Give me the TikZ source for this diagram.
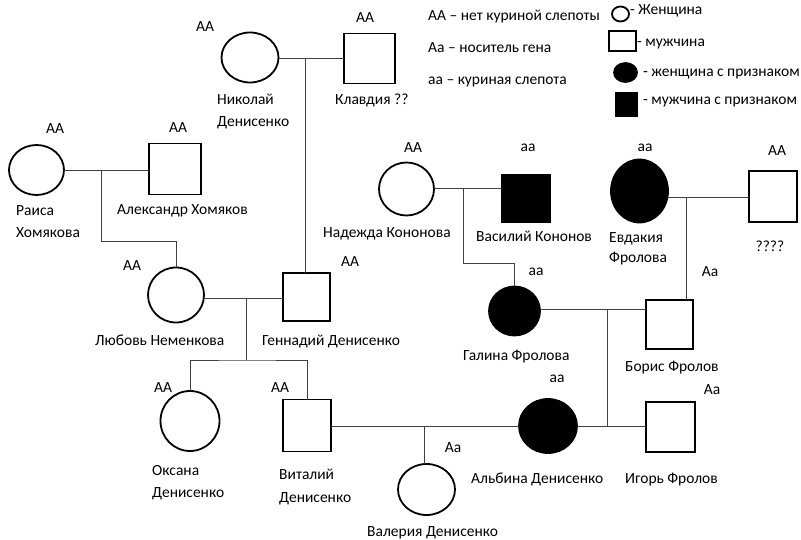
\documentclass[tikz,border=0pt]{standalone}
\usepackage{fontspec}
\setmainfont{Carlito}
\usetikzlibrary{shapes.geometric}
\begin{document}
\begin{tikzpicture}[x=1pt,y=-1pt,
  person/.style={draw=black, line width=1.8pt, inner sep=0pt, outer sep=0pt},
  fem/.style={person, ellipse},
  mal/.style={person, rectangle},
  aff/.style={fill=black},
  link/.style={draw=black!75, line width=0.8pt},
  lbl/.style={inner sep=0pt, anchor=base west, text=black,
    font=\fontsize{15.5}{18}\selectfont},
  gt/.style={lbl, anchor=base},
]
\useasboundingbox (0,0) rectangle (801,540);

% ---- persons ----
\node[fem, minimum width=57pt, minimum height=50pt] (nik) at (250,57.5) {};
\node[mal, minimum width=51pt, minimum height=50pt] (kla) at (369.5,58.5) {};
\node[fem, minimum width=55pt, minimum height=50pt] (rai) at (36.5,170) {};
\node[mal, minimum width=52pt, minimum height=51pt] (ale) at (175,169) {};
\node[fem, minimum width=56pt, minimum height=55pt] (lyu) at (176,295) {};
\node[mal, minimum width=47pt, minimum height=48pt] (gen) at (306.5,297) {};
\node[fem, minimum width=59pt, minimum height=60pt] (oks) at (190,421) {};
\node[mal, minimum width=48pt, minimum height=52pt] (vit) at (307,425.5) {};
\node[fem, minimum width=57pt, minimum height=51pt] (val) at (426.5,489.5) {};
\node[fem, aff, minimum width=58pt, minimum height=54pt] (alb) at (548,426) {};
\node[mal, minimum width=49pt, minimum height=50pt] (igo) at (670.5,427) {};
\node[fem, aff, minimum width=51pt, minimum height=49pt] (gal) at (514.5,311) {};
\node[mal, minimum width=47pt, minimum height=49pt] (bor) at (669.5,324.5) {};
\node[fem, minimum width=55pt, minimum height=53pt] (nad) at (406.5,189) {};
\node[mal, aff, minimum width=48pt, minimum height=47pt] (vas) at (526,198.5) {};
\node[fem, aff, minimum width=57pt, minimum height=63pt] (evd) at (639.5,191) {};
\node[mal, minimum width=48pt, minimum height=51pt] (unk) at (773,196.5) {};

% ---- marriages and descent ----
\coordinate (jnk) at (305,58);
\coordinate (jra) at (101,170);
\coordinate (kra) at (101,241);
\coordinate (jlg) at (246,298);
\coordinate (sib) at (246,360);
\coordinate (jva) at (424,426);
\coordinate (jgb) at (607,309);
\coordinate (jai) at (607,426);
\coordinate (jnv) at (463,188);
\coordinate (knv) at (463,263);
\coordinate (jeu) at (686,197);

\draw[link] (nik.east |- jnk) -- (kla.west |- jnk);
\draw[link] (jnk) -- (jnk |- gen.north);

\draw[link] (rai.east |- jra) -- (ale.west |- jra);
\draw[link] (jra) -- (kra) -| (lyu.north);

\draw[link] (lyu.east |- jlg) -- (gen.west |- jlg);
\draw[link] (jlg) -- (sib);
\draw[link] (oks.north) |- (sib) -| (vit.north);

\draw[link] (vit.east |- jva) -- (alb.west |- jva);
\draw[link] (jva) -- (jva |- val.north);

\draw[link] (gal.east |- jgb) -- (bor.west |- jgb);
\draw[link] (jgb) -- (jai);
\draw[link] (alb.east |- jai) -- (igo.west |- jai);

\draw[link] (nad.east |- jnv) -- (vas.west |- jnv);
\draw[link] (jnv) -- (knv) -| (gal.north);

\draw[link] (evd.east |- jeu) -- (unk.west |- jeu);
\draw[link] (jeu) -- (jeu |- bor.north);

% ---- genotypes ----
\node[gt] (gnik) at (205,32) {AA};
\node[gt] (gkla) at (365,23) {AA};
\node[gt] (grai) at (55,134) {AA};
\node[gt] (gale) at (178,133) {AA};
\node[gt] (glyu) at (132,271) {AA};
\node[gt] (ggen) at (350,267) {AA};
\node[gt] (goks) at (163,392) {AA};
\node[gt] (gvit) at (280,392) {AA};
\node[gt] (gval) at (453,452) {Aa};
\node[gt] (galb) at (557,382) {aa};
\node[gt] (ggal) at (536,276) {aa};
\node[gt] (gbor) at (710,277) {Aa};
\node[gt] (gigo) at (712,394) {Aa};
\node[gt] (gnad) at (413,153) {AA};
\node[gt] (gvas) at (528,152) {aa};
\node[gt] (gevd) at (645,152) {aa};
\node[gt] (gunk) at (777,156) {AA};

% ---- names ----
\node[lbl] (nnik1) at (217,105) {Николай};
\node[lbl] (nnik2) at (217,127) {Денисенко};
\node[lbl] (nkla) at (335,105) {Клавдия ??};
\node[lbl] (nrai1) at (16,216) {Раиса};
\node[lbl] (nrai2) at (16,238) {Хомякова};
\node[lbl] (nale) at (117,215) {Александр Хомяков};
\node[lbl] (nlyu) at (95,345) {Любовь Неменкова};
\node[lbl] (ngen) at (262,345) {Геннадий Денисенко};
\node[lbl] (noks1) at (152,475) {Оксана};
\node[lbl] (noks2) at (152,497) {Денисенко};
\node[lbl] (nvit1) at (279,479) {Виталий};
\node[lbl] (nvit2) at (279,502) {Денисенко};
\node[lbl] (nval) at (367,536) {Валерия Денисенко};
\node[lbl] (nalb) at (471,483) {Альбина Денисенко};
\node[lbl] (ngal) at (463,360) {Галина Фролова};
\node[lbl] (nbor) at (625,371) {Борис Фролов};
\node[lbl] (nigo) at (625,483) {Игорь Фролов};
\node[lbl] (nnad) at (323,238) {Надежда Кононова};
\node[lbl] (nvas) at (476,242) {Василий Кононов};
\node[lbl] (nevd1) at (609,243) {Евдакия};
\node[lbl] (nevd2) at (609,262) {Фролова};
\node[gt] (nunk) at (770,252) {????};

% ---- legend ----
\node[lbl] (k1) at (428,21) {AA – нет куриной слепоты};
\node[lbl] (k2) at (428,53) {Aa – носитель гена};
\node[lbl] (k3) at (428,85) {aa – куриная слепота};
\node[fem, minimum width=17pt, minimum height=15pt] (sf) at (620.5,14) {};
\node[mal, minimum width=27pt, minimum height=20pt] (sm) at (622.5,41) {};
\node[fem, aff, minimum width=23pt, minimum height=19pt] (sfa) at (625.5,72.5) {};
\node[mal, aff, minimum width=21pt, minimum height=23pt] (sma) at (626.5,104.5) {};
\node[lbl] (t1) at (630,15) {- Женщина};
\node[lbl] (t2) at (637,47) {- мужчина};
\node[lbl] (t3) at (643,77) {- женщина с признаком};
\node[lbl] (t4) at (643,105) {- мужчина с признаком};
\end{tikzpicture}
\end{document}
